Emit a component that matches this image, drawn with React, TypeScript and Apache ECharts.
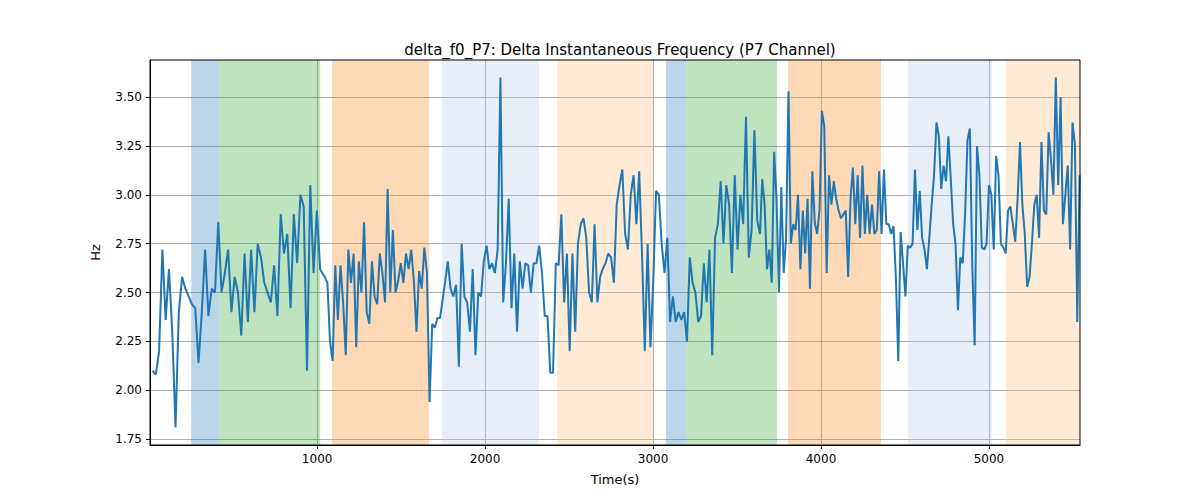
import React, { useEffect, useRef } from "react";
import * as echarts from "echarts";

const seg1 = [2.10,2.08,2.20,2.72,2.36,2.62,2.30,1.81,2.40,2.58,2.52,2.48,2.44,2.42,2.14,2.40,2.72,2.38,2.52,2.50,2.86,2.50,2.60,2.72,2.40,2.58,2.50,2.28,2.70,2.35,2.72,2.40,2.75,2.68,2.55,2.50,2.45,2.64,2.38,2.90,2.70,2.80,2.42,2.90,2.65,3.00,2.94,2.10,3.05,2.60,2.92,2.62];
const seg2 = [2.60,2.58,2.55,2.25,2.15,2.64,2.36,2.64,2.45,2.18,2.72,2.55,2.70,2.22,2.66,2.50,2.86,2.40,2.34,2.66,2.48,2.44,2.70,2.60,2.45,3.03,2.50,2.82,2.50,2.56,2.65,2.55,2.70,2.62,2.72,2.56,2.30,2.61,2.52,2.73,2.60,1.94,2.34,2.32,2.37,2.37];
const seg3 = [2.45,2.55,2.66,2.52,2.48,2.54,2.12,2.75,2.48,2.45,2.30,2.62,2.18,2.50,2.48,2.66,2.74,2.62,2.65,2.60,2.72,3.60,2.45,2.65,2.98,2.42,2.70,2.30,2.66,2.52,2.65,2.64,2.50,2.65,2.65,2.74,2.60,2.38,2.38,2.09,2.09,2.65,2.64,2.90,2.45,2.70,2.20,2.70,2.30,2.75,2.85,2.88,2.78,2.50,2.45,2.85,2.45,2.58];
const seg4 = [2.62,2.65,2.70,2.68,2.55,2.95,3.05,3.13,2.80,2.72,3.00,3.10,2.85,3.12,2.70,2.20,2.75,2.22,2.55,3.02,3.00,2.75,2.60,2.78,2.35,2.48,2.35,2.40,2.36,2.40,2.25,2.68,2.55,2.50,2.35,2.38,2.65,2.45,2.72,2.18,2.78,2.85,3.07,2.75,3.05,2.95,2.60,3.10,2.72,3.00,2.85,3.40,2.68,2.82,3.33,2.87,2.80];
const seg5 = [3.08,2.95,2.62,2.72,2.55,3.22,2.98,2.50,3.04,2.60,2.78,3.53,2.75,2.85,2.82,3.00,2.62,2.92,2.70,2.98,2.52,3.12,2.86,2.80,2.92,3.43,3.35,2.60,3.10,2.95,3.07,2.98,2.92,2.88,2.90,2.92,2.58,2.98,3.14,2.85,3.10,2.78,3.15,2.80,3.00,2.80,2.95,2.80,2.82,3.12,2.80,3.13,2.85,2.85,2.80,2.84,2.58,2.15,2.81,2.65,2.48,2.74,2.73,2.75,3.13,2.82,3.02,2.78,2.72,2.62,2.78,2.95,3.10,3.37,3.30,3.03,3.15,3.07,3.30,3.08,2.85,2.75,2.41,2.68,2.65,2.90,3.28,3.34,2.64,2.23,3.25,3.10,2.73,2.72,2.75,3.05,3.00,2.72,3.20,3.10,2.75,2.73,2.70,2.92,2.94,2.85,2.76,2.98,3.27,2.95,2.80,2.53,2.58,2.75,2.95,3.00,2.78,3.27,2.92,2.90,3.32,3.18,3.00,3.60,3.05,3.50,2.85,3.00,3.15,2.72,3.37,3.26,2.35,3.10];
const segBounds = [[20, 1018], [1030, 1732], [1745, 2685], [2700, 3637], [3650, 5540]];
const segments = [seg1, seg2, seg3, seg4, seg5];

const bands: [number, number, string][] = [
  [250, 417, "rgba(31,119,180,0.3)"],
  [417, 1018, "rgba(44,160,44,0.3)"],
  [1089, 1667, "rgba(255,127,14,0.3)"],
  [1744, 2321, "rgba(174,199,232,0.3)"],
  [2429, 3000, "rgba(255,187,120,0.3)"],
  [3077, 3196, "rgba(31,119,180,0.3)"],
  [3196, 3738, "rgba(44,160,44,0.3)"],
  [3804, 4357, "rgba(255,127,14,0.3)"],
  [4518, 5018, "rgba(174,199,232,0.3)"],
  [5101, 5542, "rgba(255,187,120,0.3)"],
];
const xTicks = [1000, 2000, 3000, 4000, 5000];
const yTicks = [1.75, 2.0, 2.25, 2.5, 2.75, 3.0, 3.25, 3.5];

export default function App() {
  const ref = useRef<HTMLDivElement>(null);
  useEffect(() => {
    document.body.style.margin = "0";
    const chart = echarts.init(ref.current!, null, { renderer: "svg" });
    const data: [number, number][] = [];
    segments.forEach((s, i) => {
      const [a, b] = segBounds[i];
      s.forEach((v, j) => data.push([a + ((b - a) * j) / (s.length - 1), v]));
    });
    const font = "DejaVu Sans";
    chart.setOption({
      animation: false,
      textStyle: { fontFamily: font },
      title: { text: "delta_f0_P7: Delta Instantaneous Frequency (P7 Channel)", left: 615, top: 37, textAlign: "center",
        textStyle: { fontSize: 15, fontWeight: "normal", color: "#000", fontFamily: font } },
      grid: { left: 150, right: 120, top: 60, bottom: 55 },
      graphic: [{ type: "rect", shape: { x: 150, y: 60, width: 930, height: 385 }, z: 100, silent: true,
        style: { fill: "none", stroke: "#000", lineWidth: 1 } }],
      xAxis: {
        type: "value", min: 5, max: 5542, name: "Time(s)", nameLocation: "middle", nameGap: 28,
        nameTextStyle: { fontSize: 13, color: "#000" },
        axisLine: { show: true, onZero: false, lineStyle: { color: "#000" } },
        axisTick: { show: true, customValues: xTicks, length: 4, lineStyle: { color: "#000" } },
        axisLabel: { customValues: xTicks, color: "#000", fontSize: 12, formatter: (v: number) => String(v) },
        splitLine: { show: true, lineStyle: { color: "#b0b0b0" } },
      },
      yAxis: {
        type: "value", min: 1.72, max: 3.69, name: "Hz", nameLocation: "middle", nameGap: 48,
        nameTextStyle: { fontSize: 13, color: "#000" },
        axisLine: { show: true, lineStyle: { color: "#000" } },
        axisTick: { show: true, customValues: yTicks, length: 4, lineStyle: { color: "#000" } },
        axisLabel: { customValues: yTicks, color: "#000", fontSize: 12, formatter: (v: number) => v.toFixed(2) },
        splitLine: { show: true, lineStyle: { color: "#b0b0b0" } },
      },
      series: [{
        type: "line", data, showSymbol: false, lineStyle: { color: "#1f77b4", width: 2 }, z: 3,
        markArea: { silent: true, data: bands.map(([a, b, c]) => [{ xAxis: a, itemStyle: { color: c } }, { xAxis: b }]) },
      }],
    });
    return () => chart.dispose();
  }, []);
  return <div ref={ref} style={{ width: 1200, height: 500 }} />;
}
